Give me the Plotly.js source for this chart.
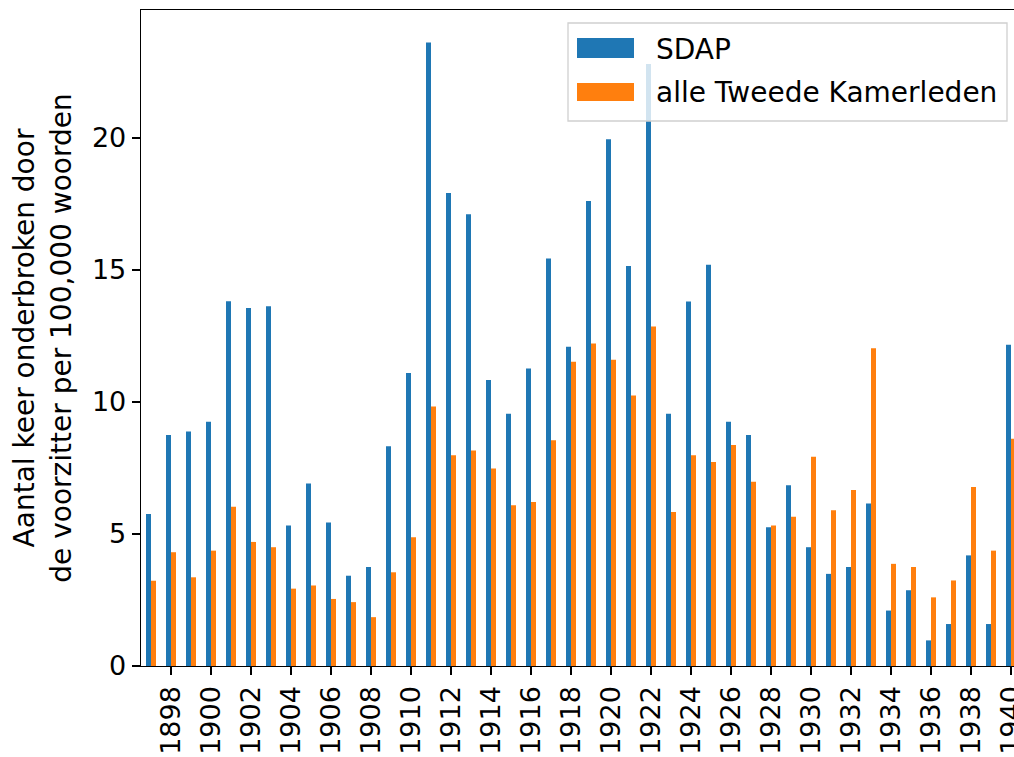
<!DOCTYPE html>
<html>
<head>
<meta charset="utf-8">
<script src="https://cdn.plot.ly/plotly-3.0.1.min.js"></script>
<style>
html,body{margin:0;padding:0;overflow:hidden;background:#fff;width:1014px;height:757px;}
#chart{width:1060px;height:757px;}
</style>
</head>
<body>
<div id="chart"></div>
<script>
const years = [1897,1898,1899,1900,1901,1902,1903,1904,1905,1906,1907,1908,1909,1910,1911,1912,1913,1914,1915,1916,1917,1918,1919,1920,1921,1922,1923,1924,1925,1926,1927,1928,1929,1930,1931,1932,1933,1934,1935,1936,1937,1938,1939,1940];
const sdap = [5.76,8.75,8.88,9.25,13.82,13.56,13.63,5.32,6.91,5.44,3.42,3.75,8.32,11.10,23.62,17.92,17.11,10.83,9.56,11.27,15.44,12.09,17.61,19.95,15.15,22.80,9.56,13.81,15.20,9.25,8.75,5.26,6.85,4.50,3.49,3.75,6.16,2.10,2.87,0.97,1.59,4.19,1.59,12.17];
const alle = [3.23,4.31,3.36,4.37,6.03,4.70,4.50,2.93,3.05,2.54,2.42,1.85,3.55,4.88,9.83,7.98,8.16,7.48,6.09,6.21,8.55,11.53,12.22,11.60,10.25,12.86,5.83,7.98,7.73,8.37,6.98,5.32,5.65,7.93,5.90,6.67,12.04,3.87,3.75,2.60,3.24,6.78,4.37,8.61];
const seriesNames = ["SDAP","alle Tweede Kamerleden"];
const colors = ["#1f77b4","#ff7f0e"];
const tickYears = [1898,1900,1902,1904,1906,1908,1910,1912,1914,1916,1918,1920,1922,1924,1926,1928,1930,1932,1934,1936,1938,1940];
const yTicks = [0,5,10,15,20];

const font = "DejaVu Sans, sans-serif";
const L = 141, R = 1021, T = 10, B = 666, W = 1060, H = 757;
const px = x => (x - L) / (R - L);
const py = y => (B - y) / (B - T);

const traces = [sdap, alle].map((vals, i) => ({
  type: "bar", x: years, y: vals, name: seriesNames[i],
  marker: {color: colors[i], line: {width: 0}}, showlegend: false, hoverinfo: "x+y"
}));

const shapes = [
  {type:"rect", xref:"paper", yref:"paper", x0:px(568), x1:px(1007), y0:py(121), y1:py(23),
   fillcolor:"rgba(255,255,255,0.8)", line:{color:"#d0d0d0", width:1.3}},
  {type:"rect", xref:"paper", yref:"paper", x0:px(577), x1:px(634), y0:py(58), y1:py(38),
   fillcolor:colors[0], line:{width:0}},
  {type:"rect", xref:"paper", yref:"paper", x0:px(577), x1:px(634), y0:py(101), y1:py(83),
   fillcolor:colors[1], line:{width:0}}
];
const annotations = [
  {xref:"paper", yref:"paper", x:px(654), y:py(49), xanchor:"left", yanchor:"middle", showarrow:false,
   text:seriesNames[0], font:{family:font, size:28, color:"#000"}},
  {xref:"paper", yref:"paper", x:px(654), y:py(93), xanchor:"left", yanchor:"middle", showarrow:false,
   text:seriesNames[1], font:{family:font, size:28, color:"#000"}}
];

const layout = {
  width: W, height: H,
  margin: {l: L, r: W - R, t: T, b: H - B, pad: 0},
  paper_bgcolor: "#fff", plot_bgcolor: "#fff",
  barmode: "group", bargap: 0.5, bargroupgap: 0,
  font: {family: font, size: 27, color: "#000"},
  xaxis: {
    range: [1896.5, 1940.5], tickmode: "array", tickvals: tickYears, ticktext: tickYears.map(String),
    tickangle: -90, ticks: "outside", ticklen: 8, tickwidth: 1.3, tickcolor: "#000",
    showline: true, mirror: true, linecolor: "#000", linewidth: 1.3, showgrid: false, zeroline: false,
    tickfont: {family: font, size: 27, color: "#000"}
  },
  yaxis: {
    range: [0, 24.85], tickmode: "array", tickvals: yTicks, ticktext: yTicks.map(String),
    ticks: "outside", ticklen: 8, tickwidth: 1.3, tickcolor: "#000",
    showline: true, mirror: true, linecolor: "#000", linewidth: 1.3, showgrid: false, zeroline: false,
    tickfont: {family: font, size: 27, color: "#000"},
    title: {text: "Aantal keer onderbroken door<br>de voorzitter per 100,000 woorden",
            font: {family: font, size: 28, color: "#000"}, standoff: 12}
  },
  shapes: shapes, annotations: annotations
};

Plotly.newPlot("chart", traces, layout, {staticPlot: true, displayModeBar: false});
</script>
</body>
</html>
